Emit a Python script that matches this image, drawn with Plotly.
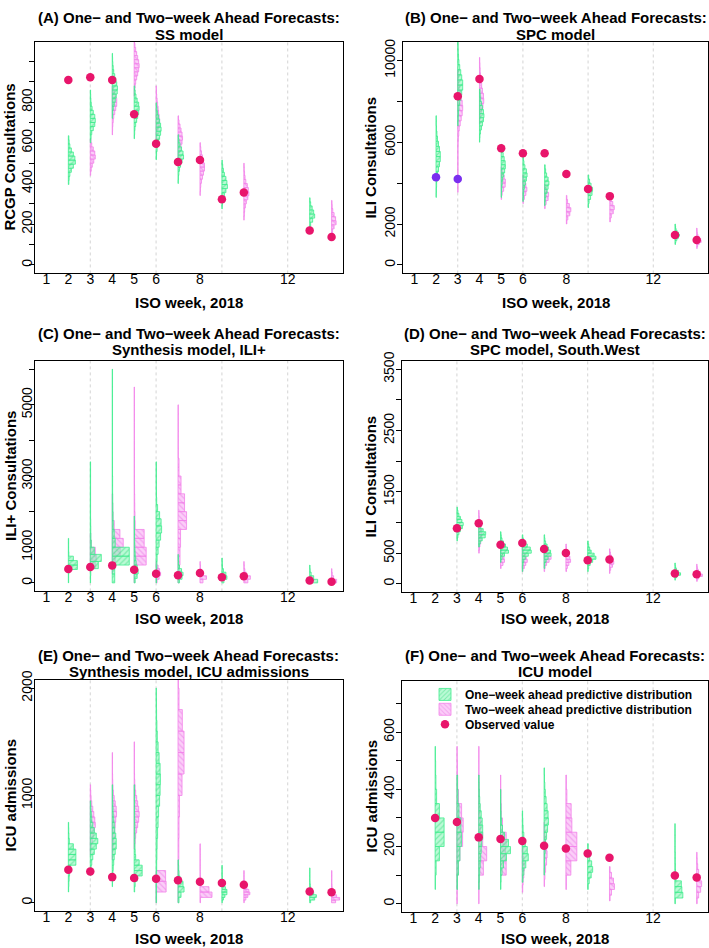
import plotly.graph_objects as go

# ------------------------------------------------------------------ data
TICK_WEEKS = [1, 2, 3, 4, 5, 6, 8, 12]
GRID_WEEKS = [3, 6, 9, 12]

# each predictive distribution: (ISO week, lowest bin edge, bin size, bin densities)
A_ONE = [
    (2, 395, 20, [0.5, 0.8, 1.5, 3, 5, 7, 6.5, 5, 3, 1.5, 0.8, 0.5]),
    (3, 600, 20, [0.5, 0.8, 1.5, 3, 4.5, 5, 4.5, 3, 1.8, 1, 0.6, 0.4, 0.3]),
    (4, 720, 20, [0.3, 0.5, 1, 2, 3, 4, 5, 5.2, 4.5, 3.5, 2.5, 1.5, 1, 0.6, 0.4, 0.3]),
    (5, 620, 20, [0.3, 0.5, 0.8, 1.5, 2.5, 3.5, 4.5, 5, 4.5, 3, 1.8, 1, 0.5]),
    (6, 517, 20, [0.3, 0.5, 1, 1.5, 2.5, 3.5, 4.5, 5, 4.5, 3.5, 2.5, 1.5, 0.8, 0.4]),
    (7, 400, 20, [0.3, 0.5, 0.8, 1.5, 2.5, 4, 5.5, 5, 3.5, 2, 1, 0.5]),
    (9, 275, 20, [0.3, 0.6, 1.2, 2.5, 4, 5.5, 5, 4, 2.5, 1.5, 0.8, 0.4]),
    (13, 170, 20, [0.4, 1, 3, 5, 4, 2.5, 1, 0.4]),
]
A_TWO = [
    (3, 440, 20, [0.4, 1, 2, 3.5, 5, 4.5, 3, 1.5, 0.7]),
    (4, 639, 20, [0.3, 0.4, 0.6, 1, 1.5, 2.5, 3.5, 4.5, 4.5, 3.5, 2, 1]),
    (5, 829, 20, [0.3, 0.5, 1, 1.5, 2.5, 3.5, 4.5, 5, 4.5, 3.5, 2.5, 1.5, 0.8, 0.4]),
    (6, 600, 20, [0.3, 0.5, 1, 2, 3, 3.5, 3, 2.5, 2, 1.5, 1, 0.6, 0.4, 0.3]),
    (7, 493, 20, [0.3, 0.6, 1, 2, 3, 4, 4.5, 4, 3, 2, 1, 0.5]),
    (8, 341, 20, [0.3, 0.5, 0.8, 1.5, 2.5, 3.5, 4.5, 4.5, 3.5, 2.5, 1.5, 0.8, 0.4]),
    (10, 220, 20, [0.3, 0.5, 0.8, 1.5, 2.5, 4, 5, 4.5, 3.5, 2, 1.2, 0.7, 0.4, 0.3]),
    (14, 137, 20, [0.4, 1, 2.5, 4.5, 4, 2.5, 1.2, 0.6, 0.4]),
]
A_OBS_WEEKS = [2, 3, 4, 5, 6, 7, 8, 9, 10, 13, 14]
A_OBS = [909, 922, 909, 741, 595, 506, 516, 323, 356, 169, 137]

B_ONE = [
    (2, 3300, 250, [0.3, 0.4, 0.6, 1, 1.5, 2.5, 3.5, 4.3, 4.3, 3.5, 2.5, 1.5, 0.9, 0.5, 0.3, 0.3]),
    (3, 6800, 250, [0.3, 0.5, 0.8, 1.2, 2, 3, 4, 5, 5, 4, 3, 2, 1.2, 0.8, 0.5, 0.4, 0.3]),
    (4, 6000, 200, [0.3, 0.5, 1, 2, 3, 4, 4.5, 4, 3, 2, 1.2, 0.8, 0.5]),
    (5, 3300, 200, [0.3, 0.4, 0.6, 1, 1.5, 2.5, 3.5, 4.2, 4, 3, 2, 1, 0.5]),
    (6, 3100, 200, [0.3, 0.5, 0.8, 1.5, 2.5, 3.5, 4.2, 3.5, 2, 1, 0.5]),
    (7, 2900, 200, [0.3, 0.6, 1.2, 2.5, 3.5, 4.3, 3.5, 2, 1, 0.5]),
    (9, 2800, 200, [0.4, 1, 2.5, 4, 4.5, 3, 1.5, 0.6]),
    (13, 1000, 100, [0.5, 1, 2, 3.5, 4.5, 3.5, 2, 1, 0.6, 0.4]),
]
B_TWO = [
    (3, 3550, 250, [0.3, 0.3, 0.3, 0.3, 0.3, 0.3, 0.3, 0.3, 0.3, 0.4, 0.6, 1, 1.5, 2.5,
                    3.5, 4.5, 5, 4.5, 3.5, 2.5, 1.5, 1, 0.6, 0.4]),
    (4, 6900, 250, [0.5, 1, 2, 3.5, 4.3, 4, 3, 2.2, 1.5, 1, 0.7, 0.5, 0.3]),
    (5, 3200, 200, [0.4, 1, 2.5, 4, 4.2, 3, 1.5, 0.6]),
    (6, 3000, 200, [0.4, 1.5, 3, 4, 3, 1.5, 0.6]),
    (7, 2750, 200, [0.5, 1.5, 3.5, 4, 2, 0.7]),
    (8, 2000, 200, [0.5, 1.5, 3.5, 4.5, 3, 1.2, 0.5]),
    (10, 2100, 200, [0.5, 1.5, 3.5, 4.5, 3, 1.5, 0.5]),
    (14, 800, 100, [0.5, 1, 2.5, 4.5, 4, 2.5, 1.2, 0.6, 0.4, 0.3]),
]
B_OBS_WEEKS = [3, 4, 5, 6, 7, 8, 9, 10, 13, 14]
B_OBS = [8252, 9092, 5709, 5466, 5466, 4447, 3718, 3364, 1456, 1214]
B_OBS_OLD_WEEKS = [2, 3]
B_OBS_OLD = [4286, 4204]

C_ONE = [
    (2, 0, 125, [0.3, 0.3, 0.5, 9, 9, 5, 0.5, 0.3, 0.3, 0.3]),
    (3, 0, 200, [0.3, 0.5, 8, 11, 4, 1, 0.6, 0.5, 0.4, 0.3, 0.3, 0.3, 0.3, 0.3, 0.3, 0.3, 0.3]),
    (4, 0, 250, [2.5, 2.5, 17, 17, 3, 2, 1, 0.8, 0.6, 0.5, 0.4, 0.4, 0.3, 0.3, 0.3, 0.3,
                 0.3, 0.3, 0.3, 0.3, 0.3, 0.3, 0.3, 0.3]),
    (5, 0, 125, [1, 3, 4, 3, 2, 1.5, 1, 0.8, 0.6, 0.5, 0.4, 0.4, 0.3, 0.3, 0.3]),
    (6, 0, 200, [0.4, 0.5, 0.8, 1, 2, 3, 4.5, 5.5, 5, 3.5, 1.5, 0.6, 0.4, 0.3, 0.3, 0.3, 0.3]),
    (7, 0, 100, [1.5, 4, 5, 3.5, 1.5, 0.6, 0.4, 0.3]),
    (9, 0, 100, [2, 5, 4, 1.5, 0.6, 0.4, 0.3]),
    (13, 0, 100, [8, 4, 1.5, 0.5, 0.3]),
]
C_TWO = [
    (3, 400, 200, [5, 6, 5, 1, 0.4]),
    (4, 250, 250, [0.5, 3, 8, 11, 7.7, 2, 0.8, 0.5, 0.3]),
    (5, 0, 250, [0.5, 0.8, 12, 12, 10, 10, 1, 0.8, 0.6, 0.5, 0.4, 0.3, 0.3, 0.3, 0.3,
                 0.3, 0.3, 0.3, 0.3, 0.3, 0.3, 0.3]),
    (6, 0, 100, [1, 3, 4.5, 3.5, 2, 0.5]),
    (7, 0, 250, [1, 1.5, 2, 2, 2.5, 2.5, 8.5, 8.5, 6.5, 6.5, 3, 3, 1, 1, 0.3, 0.3, 0.3,
                 0.3, 0.3, 0.3]),
    (8, 0, 100, [3, 6.5, 3, 1, 0.5, 0.3]),
    (10, 0, 100, [4, 6.5, 2.5, 1, 0.4, 0.3]),
    (14, 0, 100, [5, 2, 0.6, 0.3]),
]
C_OBS_WEEKS = [2, 3, 4, 5, 6, 7, 8, 9, 10, 13, 14]
C_OBS = [389, 444, 491, 370, 259, 213, 278, 157, 185, 65, 28]

D_ONE = [
    (3, 700, 50, [0.5, 1, 2, 3.5, 5.5, 6.3, 5, 3.5, 2, 1, 0.5]),
    (4, 600, 50, [0.6, 1.5, 3.5, 6.5, 7, 4.5, 2, 0.8]),
    (5, 350, 50, [0.5, 1.5, 4, 8, 7, 5, 3, 1.5, 0.8, 0.5]),
    (6, 200, 50, [0.4, 0.5, 0.8, 1.5, 3, 6, 9, 8, 5, 2.5, 1, 0.5]),
    (7, 250, 50, [0.5, 0.8, 2, 4, 7, 6.5, 4.5, 3, 1.5, 0.8, 0.5]),
    (9, 200, 50, [0.5, 1, 2.5, 5, 8.3, 6.5, 3.5, 2, 1, 0.5]),
    (13, 60, 40, [0.5, 2, 5.7, 3.5, 1.5, 0.7, 0.4]),
]
D_TWO = [
    (4, 500, 50, [0.5, 0.8, 1.2, 2, 2.5, 3, 3, 2.5, 2, 1.5, 1, 0.6, 0.4, 0.3]),
    (5, 250, 50, [0.6, 2.5, 4, 3.5, 2, 1, 0.6, 0.4, 0.3]),
    (6, 200, 50, [0.6, 2, 3.5, 5, 4, 2.5, 1.2, 0.6, 0.4]),
    (7, 200, 50, [0.5, 1, 2.5, 5, 7, 5, 2.5, 1, 0.5]),
    (8, 200, 50, [0.6, 1.5, 3, 4.7, 4, 2.5, 1.2, 0.6, 0.4]),
    (10, 170, 50, [0.5, 1.2, 3, 4.3, 3.5, 2, 1, 0.5]),
    (14, 40, 40, [0.6, 2, 5.7, 3.5, 1.5, 0.7, 0.4]),
]
D_OBS_WEEKS = [3, 4, 5, 6, 7, 8, 9, 10, 13, 14]
D_OBS = [906, 987, 638, 665, 569, 504, 386, 397, 167, 156]

E_ONE = [
    (2, 100, 50, [0.3, 0.5, 0.8, 1.2, 2, 7.5, 7.5, 7.5, 5, 1, 0.6, 0.4, 0.3]),
    (3, 250, 50, [0.4, 0.8, 1.5, 2.5, 4, 6, 7.5, 6, 4, 2.5, 1.5, 1, 0.6, 0.4]),
    (4, 150, 50, [0.3, 0.5, 0.7, 1, 1.5, 2, 3, 4, 4, 3.5, 2.5, 2, 1.5, 1, 0.8, 0.6, 0.4, 0.3, 0.3]),
    (5, 100, 50, [0.5, 1, 3, 8, 8, 5, 1.5, 1, 0.8, 0.7, 0.7, 0.6, 0.6, 0.5, 0.5, 0.4, 0.4,
                  0.3, 0.3, 0.3]),
    (6, 0, 100, [0.3, 0.3, 0.5, 0.6, 0.8, 1, 1.5, 2, 2.5, 3.5, 4, 4.3, 4, 3, 2, 1.2, 0.8,
                 0.5, 0.4, 0.3]),
    (7, 0, 50, [1, 3, 6, 5, 2, 1, 0.6, 0.4]),
    (9, 0, 25, [0.4, 1.5, 3, 5, 5, 3.5, 2, 1, 0.6, 0.4, 0.3, 0.3, 0.3, 0.3]),
    (13, 0, 25, [1, 5, 6.7, 4, 2, 1, 0.6, 0.4, 0.3, 0.3, 0.3, 0.3, 0.3]),
]
E_TWO = [
    (3, 450, 50, [0.5, 1, 2, 3, 4, 5, 4.5, 3.5, 2.5, 1.5, 0.8, 0.5, 0.3]),
    (4, 400, 50, [0.4, 0.6, 1, 1.5, 2, 2.5, 3, 3.5, 4.3, 4, 3, 2, 1.2, 0.8, 0.5, 0.4, 0.3,
                  0.3, 0.3, 0.3]),
    (5, 500, 50, [0.5, 1, 1.5, 2.5, 3.5, 4.5, 5, 4.5, 3.5, 2.5, 1.5, 1, 0.6, 0.4, 0.3, 0.3,
                  0.3, 0.3, 0.3, 0.3]),
    (6, 0, 100, [0.5, 10, 9.5]),
    (7, 0, 200, [0.5, 0.6, 0.8, 1, 1.5, 4, 6, 6, 4.3, 1, 0.4]),
    (8, 0, 50, [0.5, 12, 9, 0.8, 0.5, 0.4, 0.3, 0.3, 0.3, 0.3, 0.3]),
    (10, 0, 25, [0.4, 2, 4, 6, 5, 3, 1, 0.5, 0.3, 0.3, 0.3, 0.3]),
    (14, 0, 25, [4, 8, 5, 2, 1, 0.6, 0.4, 0.3, 0.3, 0.3, 0.3, 0.3]),
]
E_OBS_WEEKS = [2, 3, 4, 5, 6, 7, 8, 9, 10, 13, 14]
E_OBS = [307, 291, 239, 230, 224, 209, 196, 184, 169, 104, 98]

F_ONE = [
    (2, 50, 50, [0.3, 1, 4.3, 9, 9, 4.3, 1.5, 0.8, 0.5, 0.3]),
    (3, 50, 50, [0.5, 1.5, 3, 4.5, 4, 2, 1, 0.5]),
    (4, 50, 25, [0.4, 0.6, 1, 1.5, 2, 2.5, 3, 4, 4, 3.5, 2.5, 1.5, 1, 0.6, 0.4, 0.3]),
    (5, 50, 25, [0.4, 0.6, 1.5, 3, 6, 10, 8, 4, 2, 1, 0.6, 0.4, 0.3, 0.3]),
    (6, 75, 25, [0.6, 1.5, 3.5, 6, 5, 3, 1.5, 0.8, 0.5, 0.3]),
    (7, 100, 25, [0.3, 0.4, 0.6, 1, 1.5, 2.5, 3.5, 4.3, 4, 3, 2, 1.2, 0.7, 0.4, 0.3]),
    (9, 50, 20, [0.5, 1.5, 3.5, 5, 4, 2, 1, 0.5]),
    (13, 0, 20, [0.5, 8, 7, 6.5, 1, 0.6, 0.5, 0.4, 0.4, 0.3, 0.3, 0.3, 0.3, 0.3]),
]
F_TWO = [
    (3, 0, 50, [0.3, 0.5, 1.5, 3, 5.7, 6.3, 4.7, 1.5, 0.8, 0.5, 0.3]),
    (4, 0, 50, [0.3, 0.5, 4.7, 8, 4, 2, 1, 0.6, 0.4, 0.3, 0.3]),
    (5, 100, 50, [5.7, 5, 5.7, 2, 0.8, 0.5, 0.3]),
    (6, 40, 25, [0.4, 0.8, 1.5, 2, 1.5, 0.8, 0.4]),
    (7, 60, 25, [0.4, 0.8, 1.5, 2.5, 3, 2.5, 1.5, 0.8, 0.4]),
    (8, 50, 50, [0.5, 5, 11, 11, 6, 5.3, 1, 0.5]),
    (10, 10, 20, [0.6, 2, 5, 4, 2, 0.6]),
    (14, 0, 20, [0.5, 2, 4, 5, 3.5, 2, 1, 0.5, 0.4]),
]
F_OBS_WEEKS = [2, 3, 4, 5, 6, 7, 8, 9, 10, 13, 14]
F_OBS = [300, 286, 232, 226, 219, 203, 193, 176, 161, 99, 92]

TITLES = [
    ("(A) One\u2212 and Two\u2212week Ahead Forecasts:", "SS model"),
    ("(B) One\u2212 and Two\u2212week Ahead Forecasts:", "SPC model"),
    ("(C) One\u2212 and Two\u2212week Ahead Forecasts:", "Synthesis model, ILI+"),
    ("(D) One\u2212 and Two\u2212week Ahead Forecasts:", "SPC model, South.West"),
    ("(E) One\u2212 and Two\u2212week Ahead Forecasts:", "Synthesis model, ICU admissions"),
    ("(F) One\u2212 and Two\u2212week Ahead Forecasts:", "ICU model"),
]
YLABELS = ["RCGP Consultations", "ILI Consultations", "ILI+ Consultations",
           "ILI Consultations", "ICU admissions", "ICU admissions"]
XLABEL = "ISO week, 2018"
LEGEND_NAMES = ["One\u2212week ahead predictive distribution",
                "Two\u2212week ahead predictive distribution",
                "Observed value"]
Y_TICKS = [list(range(0, 1001, 100)), list(range(0, 10001, 2000)), list(range(0, 6001, 1000)),
           list(range(0, 3501, 500)), [0, 1000, 2000], list(range(0, 701, 100))]
Y_LABELLED = [[0, 200, 400, 600, 800], [0, 2000, 6000, 10000], [0, 1000, 3000, 5000],
              [0, 500, 1500, 2500, 3500], [0, 1000, 2000], [0, 200, 400, 600]]
Y_LIMITS = [(0, 1055), (0, 10500), (0, 6000), (0, 3500), (0, 2000), (0, 750)]
X_LIMITS = (1, 14)

PANELS = [
    (A_ONE, A_TWO, A_OBS_WEEKS, A_OBS),
    (B_ONE, B_TWO, B_OBS_WEEKS, B_OBS),
    (C_ONE, C_TWO, C_OBS_WEEKS, C_OBS),
    (D_ONE, D_TWO, D_OBS_WEEKS, D_OBS),
    (E_ONE, E_TWO, E_OBS_WEEKS, E_OBS),
    (F_ONE, F_TWO, F_OBS_WEEKS, F_OBS),
]

# ------------------------------------------------------------------ style / layout
W, H = 709, 948
FONT = "Liberation Sans, Arial, Helvetica, sans-serif"
DENSITY_TO_WEEK = 1 / 21.9
GREEN_LINE = "#3FEE8E"
GREEN_FILL = "rgba(130,246,180,0.55)"
GREEN_HATCH = "rgba(30,215,110,0.85)"
PINK_LINE = "#F283EA"
PINK_FILL = "rgba(247,165,242,0.55)"
PINK_HATCH = "rgba(232,100,226,0.85)"
OBS_COLOR = "#E8156B"
OLD_COLOR = "#7A2EEF"

# plot boxes in pixels: left, top, right, bottom
BOXES = [(35, 33, 343, 267), (403, 33, 708, 267),
         (35, 355, 343, 588), (402, 355, 708, 589),
         (35, 677, 343, 911), (402, 678, 708, 912)]
TITLE_Y = [(9, 25.5), (328, 344), (653, 669)]
XTITLE_Y = [296, 615.5, 938]
YTITLE_X = [10, 371]
Y_STANDOFF = [-9, -4]
LEGEND_X = 425
LEGEND_Y = [692, 707, 722]


def px(x):
    return x / W


def py(y):
    return 1 - y / H


def expand(lo, hi, f=0.04):
    d = (hi - lo) * f
    return [lo - d, hi + d]


def hist_arrays(dists):
    ys, xs, bases, widths = [], [], [], []
    for week, lo, step, dens in dists:
        for i, d in enumerate(dens):
            ys.append(lo + step * (i + 0.5))
            xs.append(d * DENSITY_TO_WEEK)
            bases.append(week)
            widths.append(step)
    return ys, xs, bases, widths


fig = go.Figure()
shapes, annotations = [], []

for k, (one, two, obs_w, obs_v) in enumerate(PANELS):
    n = "" if k == 0 else str(k + 1)
    xa, ya = "x" + n, "y" + n
    last = k == 5

    for dists, fill, hatch, line, shape, li in [
        (two, PINK_FILL, PINK_HATCH, PINK_LINE, "\\", 1),
        (one, GREEN_FILL, GREEN_HATCH, GREEN_LINE, "/", 0),
    ]:
        ys, xs, bases, widths = hist_arrays(dists)
        fig.add_trace(go.Bar(
            orientation="h", y=ys, x=xs, base=bases, width=widths,
            marker=dict(color=fill, line=dict(color=line, width=0.8),
                        pattern=dict(shape=shape, fgcolor=hatch, bgcolor=fill,
                                     size=4, solidity=0.3, fillmode="overlay")),
            xaxis=xa, yaxis=ya, name=LEGEND_NAMES[li], showlegend=last,
            legend="legend" if li == 0 else "legend2", hoverinfo="skip"))

    if k == 1:
        fig.add_trace(go.Scatter(x=B_OBS_OLD_WEEKS, y=B_OBS_OLD, mode="markers",
                                 marker=dict(color=OLD_COLOR, size=8.5),
                                 xaxis=xa, yaxis=ya, showlegend=False))
    fig.add_trace(go.Scatter(x=obs_w, y=obs_v, mode="markers",
                             marker=dict(color=OBS_COLOR, size=8.5),
                             xaxis=xa, yaxis=ya, name=LEGEND_NAMES[2],
                             showlegend=last, legend="legend3"))

    l, t, r, b = BOXES[k]
    col, row = k % 2, k // 2
    xkey = "xaxis" + n
    ykey = "yaxis" + n
    fig.layout[xkey] = dict(
        domain=[px(l), px(r)], anchor=ya, range=expand(*X_LIMITS),
        tickmode="array", tickvals=TICK_WEEKS, ticktext=[str(v) for v in TICK_WEEKS],
        ticks="", showgrid=False, zeroline=False, showline=True, mirror=True,
        linecolor="black", linewidth=1, tickfont=dict(size=14, color="black", family=FONT),
        ticklabelstandoff=-7)
    fig.layout[ykey] = dict(
        domain=[py(b), py(t)], anchor=xa, range=expand(*Y_LIMITS[k]),
        tickmode="array", tickvals=Y_TICKS[k],
        ticktext=[str(v) if v in Y_LABELLED[k] else "" for v in Y_TICKS[k]],
        ticks="outside", ticklen=5, tickcolor="black", tickangle=-90,
        showgrid=False, zeroline=False, showline=True, mirror=True,
        linecolor="black", linewidth=1, tickfont=dict(size=14, color="black", family=FONT),
        ticklabelstandoff=Y_STANDOFF[col])

    for w in GRID_WEEKS:
        shapes.append(dict(type="line", xref=xa, yref=ya + " domain", x0=w, x1=w, y0=0, y1=1,
                           line=dict(color="#D4D4D4", width=1, dash="dot"), layer="below"))

    cx = px((l + r) / 2)
    for line_txt, yy in zip(TITLES[k], TITLE_Y[row]):
        annotations.append(dict(text="<b>" + line_txt + "</b>", x=cx, y=py(yy), xref="paper",
                                yref="paper", xanchor="center", yanchor="middle",
                                showarrow=False, font=dict(size=15, family=FONT, color="black")))
    annotations.append(dict(text="<b>" + XLABEL + "</b>", x=cx, y=py(XTITLE_Y[row]),
                            xref="paper", yref="paper", xanchor="center", yanchor="middle",
                            showarrow=False, font=dict(size=15, family=FONT, color="black")))
    annotations.append(dict(text="<b>" + YLABELS[k] + "</b>", x=px(YTITLE_X[col]),
                            y=py((t + b) / 2), xref="paper", yref="paper", xanchor="center",
                            yanchor="middle", textangle=-90, showarrow=False,
                            font=dict(size=15, family=FONT, color="black")))

legend_style = dict(xanchor="left", yanchor="middle", bgcolor="rgba(0,0,0,0)",
                    font=dict(size=12, family=FONT, weight="bold", color="black"),
                    itemwidth=30, borderwidth=0)

fig.update_layout(
    width=W, height=H, margin=dict(l=0, r=0, t=0, b=0),
    paper_bgcolor="white", plot_bgcolor="white", barmode="overlay",
    font=dict(family=FONT, color="black"),
    shapes=shapes, annotations=annotations,
    legend=dict(x=px(LEGEND_X), y=py(LEGEND_Y[0]), **legend_style),
    legend2=dict(x=px(LEGEND_X), y=py(LEGEND_Y[1]), **legend_style),
    legend3=dict(x=px(LEGEND_X), y=py(LEGEND_Y[2]), **legend_style),
)

fig.write_html(
    "out.html",
    config={"displayModeBar": False},
    post_script="document.body.style.margin='0px';document.body.style.padding='0px';"
                "document.body.style.overflow='hidden';",
)
